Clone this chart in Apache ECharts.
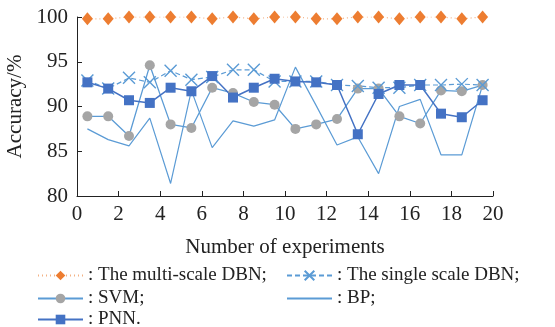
<!DOCTYPE html>
<html>
<head>
<meta charset="utf-8">
<script src="https://cdn.jsdelivr.net/npm/echarts@6.0.0/dist/echarts.min.js"></script>
<style>
  html, body { margin: 0; padding: 0; background: #fff; }
  #chart { width: 555px; height: 327px; }
</style>
</head>
<body>
<div id="chart"></div>
<script>
// experiment index (points sit between the integer ticks)
const runs = [0.5, 1.5, 2.5, 3.5, 4.5, 5.5, 6.5, 7.5, 8.5, 9.5,
  10.5, 11.5, 12.5, 13.5, 14.5, 15.5, 16.5, 17.5, 18.5, 19.5]

const multiDbn = [99.8, 99.8, 100, 100, 100, 100, 99.8, 100, 99.8, 100,
  100, 99.8, 99.8, 100, 100, 99.8, 100, 100, 99.8, 100]
const singleDbn = [92.9, 92.0, 93.2, 92.7, 94.0, 93.0, 93.3, 94.1, 94.1, 92.8,
  92.8, 92.8, 92.4, 92.3, 92.1, 92.1, 92.4, 92.4, 92.5, 92.4]
const svm = [88.9, 88.9, 86.7, 94.6, 88.0, 87.6, 92.1, 91.5, 90.5, 90.2,
  87.5, 88.0, 88.6, 92.0, 92.0, 88.9, 88.1, 91.8, 91.7, 92.4]
const bp = [87.5, 86.3, 85.6, 88.7, 81.4, 91.8, 85.4, 88.4, 87.8, 88.5,
  94.4, 90.1, 85.7, 86.6, 82.5, 90.0, 90.8, 84.6, 84.6, 92.4]
const pnn = [92.7, 92.0, 90.7, 90.4, 92.1, 91.7, 93.4, 91.0, 92.1, 93.1,
  92.8, 92.7, 92.4, 86.9, 91.4, 92.4, 92.4, 89.2, 88.8, 90.7]

const xTicks = { min: 0, max: 20, step: 2 }
const yTicks = { min: 80, max: 100, step: 5 }

const serif = 'Liberation Serif'
const crossIcon = 'path://M0,0L10,10M10,0L0,10'

function pairs(ys) {
  return runs.map((x, i) => [x, ys[i]])
}

function legendAt(left, top, name, tail) {
  return {
    left: left,
    top: top,
    itemWidth: 45,
    itemHeight: 12,
    itemGap: 4,
    data: [name === 'BP' ? { name: name, itemStyle: { opacity: 0 } } : name],
    formatter: ': {name}' + tail,
    textStyle: { fontFamily: serif, fontSize: 19, color: '#222' }
  }
}

const chart = echarts.init(document.getElementById('chart'))
chart.setOption({
  animation: false,
  grid: { left: 77, right: 62, top: 17, bottom: 131, outerBoundsMode: 'none' },
  legend: [
    legendAt(32, 261, 'The multi-scale DBN', ';'),
    legendAt(281, 261, 'The single scale DBN', ';'),
    legendAt(32, 284, 'SVM', ';'),
    legendAt(281, 284, 'BP', ';'),
    legendAt(32, 305, 'PNN', '.')
  ],
  xAxis: {
    type: 'value',
    min: xTicks.min,
    max: xTicks.max,
    interval: xTicks.step,
    name: 'Number of experiments',
    nameLocation: 'middle',
    nameGap: 41,
    nameTextStyle: { fontFamily: serif, fontSize: 21, color: '#222' },
    axisLine: { lineStyle: { color: '#222', width: 1 } },
    axisTick: { inside: true, length: 5, lineStyle: { color: '#222' } },
    axisLabel: { fontFamily: serif, fontSize: 21, color: '#222', margin: 8 },
    splitLine: { show: false }
  },
  yAxis: {
    type: 'value',
    min: yTicks.min,
    max: yTicks.max,
    interval: yTicks.step,
    name: 'Accuracy/%',
    nameLocation: 'middle',
    nameGap: 44,
    nameTextStyle: { fontFamily: serif, fontSize: 21, color: '#222' },
    axisLine: { show: true, lineStyle: { color: '#222', width: 1 } },
    axisTick: { show: true, inside: true, length: 5, lineStyle: { color: '#222' } },
    axisLabel: { fontFamily: serif, fontSize: 21, color: '#222', margin: 9 },
    splitLine: { show: false }
  },
  series: [
    {
      name: 'BP',
      type: 'line',
      data: pairs(bp),
      symbol: 'none',
      lineStyle: { color: '#5B9BD5', width: 1.2 },
      itemStyle: { color: '#5B9BD5' }
    },
    {
      name: 'SVM',
      type: 'line',
      data: pairs(svm),
      symbol: 'circle',
      symbolSize: 10,
      lineStyle: { color: '#5B9BD5', width: 1.3 },
      itemStyle: { color: '#A5A5A5' }
    },
    {
      name: 'The single scale DBN',
      type: 'line',
      data: pairs(singleDbn),
      symbol: crossIcon,
      symbolSize: 12,
      lineStyle: { color: '#5B9BD5', width: 1.2, type: [5, 3] },
      itemStyle: { color: 'rgba(0,0,0,0)', borderColor: '#5B9BD5', borderWidth: 1.4 }
    },
    {
      name: 'PNN',
      type: 'line',
      data: pairs(pnn),
      symbol: 'rect',
      symbolSize: 10,
      lineStyle: { color: '#4472C4', width: 1.5 },
      itemStyle: { color: '#4472C4' }
    },
    {
      name: 'The multi-scale DBN',
      type: 'line',
      data: pairs(multiDbn),
      symbol: 'diamond',
      symbolSize: [11, 13],
      lineStyle: { color: '#F4B183', width: 1.2, type: [1, 3] },
      itemStyle: { color: '#ED7D31' }
    }
  ]
})
</script>
</body>
</html>
